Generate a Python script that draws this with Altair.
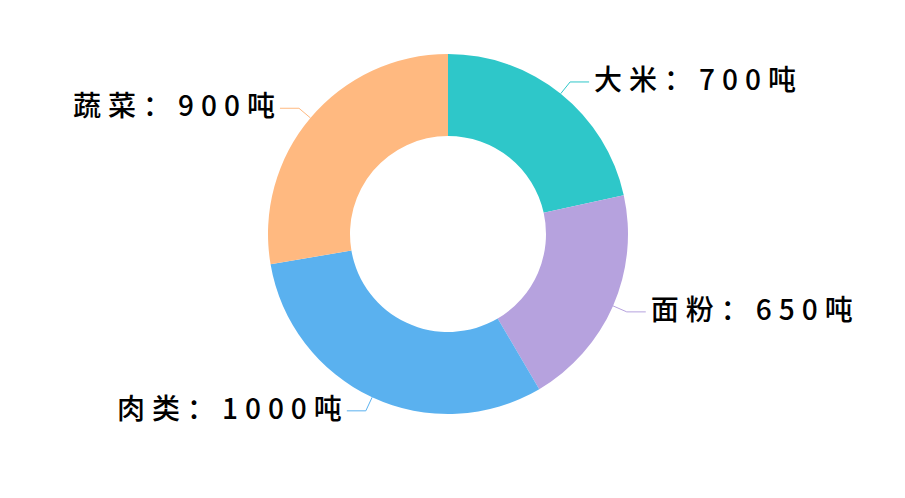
import altair as alt
import pandas as pd

# ---- data ----
names = ["大米", "面粉", "肉类", "蔬菜"]
values = [700, 650, 1000, 900]
unit = "吨"
colors = ["#2ec7c9", "#b6a2de", "#5ab1ef", "#ffb980"]

SEP = "\u2005"  # spacing between characters (letter spacing)
labels = [SEP.join(f"{n}：{v}{unit}") for n, v in zip(names, values)]

df = pd.DataFrame({"name": names, "value": values, "order": list(range(len(names))), "label": labels})

# ---- layout ----
CX, CY = 440, 226
R_IN, R_OUT = 98, 180
R_ELBOW = 195
LEN2 = 19
GAP = 5
FONT = "Noto Sans CJK SC"

color_scale = alt.Scale(domain=names, range=colors)

base = alt.Chart(df)

arcs = base.mark_arc(innerRadius=R_IN, outerRadius=R_OUT).encode(
    theta=alt.Theta("value:Q", stack=True),
    order=alt.Order("order:Q"),
    color=alt.Color("name:N", scale=color_scale, legend=None),
    x=alt.value(CX),
    y=alt.value(CY),
)

geo = base.transform_joinaggregate(total="sum(value)").transform_window(
    cum="sum(value)", sort=[alt.SortField("order")], frame=[None, 0]
).transform_calculate(
    mid="(datum.cum - datum.value / 2) / datum.total * 2 * PI",
    sx=f"{CX} + {R_OUT} * sin(datum.mid)",
    sy=f"{CY} - {R_OUT} * cos(datum.mid)",
    ex=f"{CX} + {R_ELBOW} * sin(datum.mid)",
    ey=f"{CY} - {R_ELBOW} * cos(datum.mid)",
    side="sin(datum.mid) >= 0 ? 1 : -1",
    hx=f"datum.ex + datum.side * {LEN2}",
    tx=f"datum.hx + datum.side * {GAP}",
)

seg1 = geo.mark_rule(strokeWidth=1).encode(
    x=alt.X("sx:Q", scale=None),
    y=alt.Y("sy:Q", scale=None),
    x2="ex:Q",
    y2="ey:Q",
    color=alt.Color("name:N", scale=color_scale, legend=None),
)
seg2 = geo.mark_rule(strokeWidth=1).encode(
    x=alt.X("ex:Q", scale=None),
    y=alt.Y("ey:Q", scale=None),
    x2="hx:Q",
    y2="ey:Q",
    color=alt.Color("name:N", scale=color_scale, legend=None),
)

text_kw = dict(font=FONT, fontSize=28, fontWeight=500, color="#000000", baseline="middle")
text_right = geo.transform_filter("datum.side > 0").mark_text(align="left", **text_kw).encode(
    x=alt.X("tx:Q", scale=None), y=alt.Y("ey:Q", scale=None), text="label:N"
)
text_left = geo.transform_filter("datum.side < 0").mark_text(align="right", **text_kw).encode(
    x=alt.X("tx:Q", scale=None), y=alt.Y("ey:Q", scale=None), text="label:N"
)

chart = alt.layer(arcs, seg1, seg2, text_right, text_left).properties(
    width=889, height=482, autosize="none", padding=0, background="#ffffff"
).configure_view(stroke=None)

chart.save("out.html", embed_options={"renderer": "svg", "actions": False})
